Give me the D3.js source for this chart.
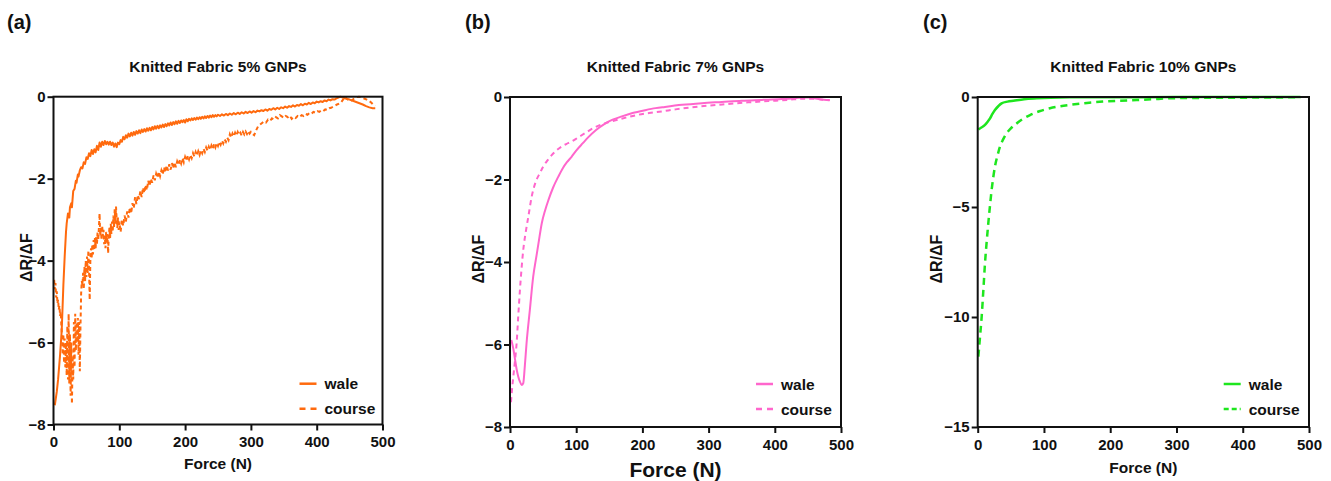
<!DOCTYPE html>
<html>
<head>
<meta charset="utf-8">
<script src="https://cdn.jsdelivr.net/npm/d3@7"></script>
<style>
  body { margin: 0; background: #fff; }
  text { font-family: "Liberation Sans", Arial, sans-serif; font-weight: bold; fill: #111; }
</style>
</head>
<body>
<svg id="chart" width="1331" height="481"></svg>
<script>
// ---- data ----
var forceTicks = [0, 100, 200, 300, 400, 500];
var yTicks8 = [-8, -6, -4, -2, 0];
var yTicks15 = [-15, -10, -5, 0];
var seriesNames = ["wale", "course"];
var panelLabels = ["(a)", "(b)", "(c)"];
var panelTitles = ["Knitted Fabric 5% GNPs", "Knitted Fabric 7% GNPs", "Knitted Fabric 10% GNPs"];

// [force N, dR/dF]
var wale5 = [[2,-7.53],[5,-7.2],[7,-6.9],[10,-6.3],[12.5,-5.7],[15,-4.6],[17,-3.9],[19,-3.3],[20,-3.1],[22,-2.85],
  [24,-2.95],[25,-2.7],[27,-2.6],[28,-2.7],[30,-2.3],[32,-2.25],[34,-2.05],[35,-2.1],[37,-1.9],[38,-1.95],
  [40,-1.8],[42,-1.72],[44,-1.75],[46,-1.6],[48,-1.64],[50,-1.48],[52,-1.52],[54,-1.38],[56,-1.45],[58,-1.3],
  [60,-1.4],[62,-1.28],[64,-1.36],[66,-1.2],[68,-1.3],[70,-1.12],[72,-1.22],[74,-1.1],[76,-1.18],[78,-1.08],
  [80,-1.16],[82,-1.1],[84,-1.17],[86,-1.1],[88,-1.18],[90,-1.12],[92,-1.22],[94,-1.14],[96,-1.23],[98,-1.12],
  [100,-1.16],[102,-1.06],[104,-1.1],[106,-0.98],[108,-1.04],[110,-0.94],[112,-1.0],[114,-0.9],[116,-0.97],[118,-0.88],
  [120,-0.95],[122,-0.86],[124,-0.93],[126,-0.84],[128,-0.9],[130,-0.82],[132,-0.89],[134,-0.8],[136,-0.86],[138,-0.79],
  [140,-0.85],[142,-0.77],[144,-0.83],[146,-0.76],[148,-0.82],[150,-0.74],[152,-0.8],[154,-0.72],[156,-0.78],[158,-0.71],
  [160,-0.77],[162,-0.7],[164,-0.75],[166,-0.68],[168,-0.74],[170,-0.67],[172,-0.72],[174,-0.65],[176,-0.7],[178,-0.63],
  [180,-0.69],[182,-0.62],[184,-0.67],[186,-0.6],[188,-0.66],[190,-0.59],[192,-0.64],[194,-0.58],[196,-0.62],[198,-0.57],
  [200,-0.63],[202,-0.55],[204,-0.6],[206,-0.54],[208,-0.58],[210,-0.53],[212,-0.57],[214,-0.52],[216,-0.56],[218,-0.51],
  [220,-0.55],[222,-0.5],[224,-0.54],[226,-0.49],[228,-0.53],[230,-0.48],[232,-0.52],[234,-0.47],[236,-0.51],[238,-0.46],
  [240,-0.5],[242,-0.45],[244,-0.49],[246,-0.45],[248,-0.48],[250,-0.44],[253,-0.47],[256,-0.43],[259,-0.46],[262,-0.42],
  [265,-0.45],[268,-0.41],[271,-0.44],[274,-0.4],[277,-0.43],[280,-0.39],[283,-0.42],[286,-0.38],[289,-0.41],[292,-0.37],
  [295,-0.4],[298,-0.36],[301,-0.39],[304,-0.35],[307,-0.38],[310,-0.34],[313,-0.36],[316,-0.33],[319,-0.35],[322,-0.31],
  [325,-0.34],[328,-0.3],[331,-0.32],[334,-0.28],[337,-0.31],[340,-0.27],[343,-0.3],[346,-0.26],[349,-0.28],[352,-0.24],
  [355,-0.27],[358,-0.23],[361,-0.25],[364,-0.21],[367,-0.24],[370,-0.2],[373,-0.22],[376,-0.18],[379,-0.21],[382,-0.17],
  [385,-0.19],[388,-0.15],[391,-0.18],[394,-0.14],[397,-0.16],[400,-0.12],[403,-0.14],[406,-0.11],[409,-0.13],[412,-0.09],
  [415,-0.11],[418,-0.07],[421,-0.09],[424,-0.06],[427,-0.07],[430,-0.04],[433,-0.02],[436,0],[440,-0.02],[445,-0.05],
  [450,-0.07],[455,-0.1],[460,-0.13],[465,-0.16],[470,-0.19],[475,-0.23],[480,-0.26],[485,-0.28],[489,-0.28]];

var course5 = [[1,-4.47],[2,-4.7],[3,-4.55],[4,-4.9],[5,-4.75],[6,-5.05],[7,-4.95],[8,-5.2],[9,-5.1],[10,-5.35],
  [11,-5.25],[12,-5.6],[13,-5.9],[14,-6.3],[15,-5.8],[16,-6.5],[17,-5.9],[18,-6.6],[19,-6.0],[20,-6.8],
  [21,-5.6],[22,-6.9],[23,-5.3],[24,-7.0],[25,-5.8],[26,-7.3],[27,-6.0],[28,-7.5],[29,-6.4],[30,-6.9],
  [31,-5.5],[32,-6.6],[33,-5.3],[34,-6.2],[35,-5.5],[36,-6.0],[37,-5.4],[38,-6.3],[39,-5.5],[40,-6.7],
  [41,-5.6],[42,-4.8],[43,-4.5],[44,-4.6],[45,-4.3],[46,-4.7],[47,-4.15],[48,-4.5],[49,-4.0],[50,-4.4],
  [51,-3.9],[52,-4.3],[53,-3.75],[54,-4.2],[55,-4.96],[56,-4.0],[57,-3.7],[58,-3.95],[59,-3.6],[60,-3.85],
  [61,-3.5],[62,-3.75],[63,-3.45],[64,-3.7],[65,-3.4],[66,-3.6],[67,-3.3],[68,-3.5],[69,-3.2],[70,-2.85],
  [71,-3.4],[72,-3.2],[73,-3.5],[74,-3.15],[75,-3.4],[76,-3.25],[77,-3.6],[78,-3.4],[79,-3.7],[80,-3.3],
  [81,-3.55],[82,-3.35],[83,-3.82],[84,-3.4],[85,-3.2],[86,-3.45],[87,-3.1],[88,-3.35],[89,-3.05],[90,-3.3],
  [91,-2.9],[92,-3.2],[93,-2.75],[94,-3.1],[95,-2.68],[96,-3.0],[97,-3.2],[98,-2.95],[99,-3.25],[100,-3.05],
  [102,-3.3],[104,-3.0],[106,-3.15],[108,-2.9],[110,-3.05],[112,-2.8],[114,-2.95],[116,-2.7],[118,-2.85],[120,-2.6],
  [122,-2.72],[124,-2.45],[126,-2.62],[128,-2.4],[130,-2.5],[132,-2.3],[134,-2.45],[136,-2.22],[138,-2.35],[140,-2.15],
  [142,-2.28],[144,-2.05],[146,-2.18],[148,-2.0],[150,-2.1],[152,-1.92],[154,-2.04],[156,-1.88],[158,-1.98],[160,-1.83],
  [162,-1.94],[164,-1.8],[166,-1.9],[168,-1.72],[170,-1.85],[172,-1.68],[174,-1.8],[176,-1.65],[178,-1.78],[180,-1.62],
  [182,-1.75],[184,-1.6],[186,-1.72],[188,-1.58],[190,-1.66],[192,-1.54],[194,-1.63],[196,-1.5],[198,-1.6],[200,-1.47],
  [202,-1.56],[204,-1.44],[206,-1.53],[208,-1.42],[210,-1.5],[212,-1.38],[214,-1.46],[216,-1.35],[218,-1.44],[220,-1.33],
  [222,-1.42],[224,-1.3],[226,-1.38],[228,-1.27],[230,-1.35],[232,-1.24],[234,-1.32],[236,-1.22],[238,-1.3],[240,-1.19],
  [242,-1.27],[244,-1.16],[246,-1.24],[248,-1.13],[250,-1.2],[252,-1.1],[254,-1.17],[256,-1.07],[258,-1.14],[260,-1.04],
  [262,-1.1],[264,-1.0],[266,-1.06],[268,-0.92],[270,-1.0],[272,-0.9],[274,-0.97],[276,-0.88],[278,-0.95],[280,-0.86],
  [282,-0.93],[284,-0.88],[286,-0.95],[288,-0.86],[290,-0.92],[292,-0.85],[294,-0.91],[296,-0.84],[298,-0.9],[300,-0.86],
  [302,-0.9],[305,-0.94],[308,-0.82],[311,-0.72],[314,-0.68],[317,-0.64],[320,-0.6],[323,-0.63],[326,-0.56],[329,-0.59],
  [332,-0.53],[335,-0.56],[338,-0.5],[341,-0.53],[344,-0.45],[347,-0.48],[350,-0.52],[353,-0.47],[356,-0.5],[359,-0.46],
  [362,-0.54],[365,-0.49],[368,-0.52],[371,-0.47],[374,-0.5],[377,-0.45],[380,-0.47],[383,-0.42],[386,-0.44],[389,-0.4],
  [392,-0.42],[395,-0.37],[398,-0.39],[401,-0.35],[404,-0.37],[407,-0.33],[410,-0.35],[413,-0.31],[416,-0.32],[419,-0.28],
  [422,-0.27],[425,-0.24],[428,-0.22],[431,-0.19],[434,-0.17],[437,-0.14],[440,-0.07],[443,0],[446,-0.05],[449,-0.09],
  [452,-0.11],[455,-0.07],[458,-0.03],[461,-0.01],[464,0],[467,-0.01],[470,-0.03],[473,-0.05],[476,-0.07],[479,-0.1],
  [482,-0.13],[485,-0.18],[489,-0.22]];

var wale7 = [[2,-5.89],[5,-6.1],[7.5,-6.35],[10,-6.6],[12.5,-6.78],[15,-6.9],[17.6,-6.98],[20,-6.94],[22.5,-6.5],[25,-5.97],
  [30,-5.16],[35,-4.36],[40,-3.85],[43,-3.55],[48,-3.06],[53,-2.75],[58,-2.5],[65,-2.2],[73,-1.93],[80,-1.72],
  [86,-1.58],[93,-1.45],[100,-1.3],[110,-1.12],[118,-0.98],[130,-0.8],[143,-0.65],[155,-0.55],[169,-0.47],[185,-0.39],
  [204,-0.32],[220,-0.27],[234,-0.24],[260,-0.19],[290,-0.15],[320,-0.12],[350,-0.09],[380,-0.07],[410,-0.05],[430,-0.03],
  [445,-0.01],[452,-0.01],[460,-0.03],[470,-0.06],[478,-0.07],[483,-0.07]];

var course7 = [[1.5,-7.4],[3,-7.1],[5,-6.78],[7.5,-6.4],[10,-5.97],[12.5,-5.3],[15,-4.68],[17.5,-4.15],[20,-3.71],[24,-3.25],
  [27.7,-2.9],[32.7,-2.42],[36,-2.2],[40,-2.01],[45,-1.85],[50,-1.69],[56,-1.55],[63,-1.41],[70,-1.3],[78,-1.2],
  [85,-1.14],[93,-1.08],[103,-0.98],[113,-0.88],[123,-0.78],[133,-0.7],[145,-0.63],[158,-0.57],[175,-0.5],[194,-0.43],
  [210,-0.39],[229,-0.35],[250,-0.3],[275,-0.25],[300,-0.21],[330,-0.17],[360,-0.13],[390,-0.1],[420,-0.07],[445,-0.04],
  [460,-0.04],[470,-0.06],[483,-0.08]];

var wale10 = [[1,-1.47],[5,-1.4],[11,-1.27],[15,-1.12],[18.6,-0.97],[22,-0.78],[26,-0.59],[31,-0.42],[36,-0.29],[45,-0.21],
  [54,-0.17],[70,-0.1],[89,-0.06],[110,-0.03],[139,-0.015],[200,-0.01],[300,-0.005],[400,0],[487,0]];

var course10 = [[1,-11.8],[3.5,-10.9],[6,-9.98],[8.5,-8.8],[11,-7.56],[13.5,-6.6],[16,-5.74],[18.5,-4.95],[21,-4.23],[23.5,-3.65],
  [26,-3.17],[30,-2.65],[33.6,-2.26],[38,-1.95],[43.7,-1.65],[50,-1.43],[58.8,-1.2],[68,-1.0],[79,-0.82],[93,-0.65],
  [109,-0.51],[125,-0.42],[139,-0.36],[165,-0.27],[189,-0.21],[215,-0.17],[240,-0.14],[265,-0.1],[290,-0.06],[340,-0.04],
  [400,-0.03],[451,-0.02],[487,-0.01]];

// ---- layout ----
var svg = d3.select("#chart");

var panels = [
  {x0: 53.5, x1: 382.5, y0: 96.7, y1: 424.5, ymin: -8, yTicks: yTicks8, wale: wale5, course: course5,
   color: "#ff6a0e", curve: d3.curveLinear, width: 2, dash: "4,3", legDash: "6,5",
   yTitleDx: 22, xTitleSize: 15.5, xTitleY: 469, labelX: 7},
  {x0: 510, x1: 841, y0: 97, y1: 427, ymin: -8, yTicks: yTicks8, wale: wale7, course: course7,
   color: "#ff66cc", curve: d3.curveMonotoneX, width: 2, dash: "5,4", legDash: "6,5",
   yTitleDx: 26, xTitleSize: 21, xTitleY: 477, labelX: 465},
  {x0: 977.7, x1: 1309, y0: 97, y1: 427, ymin: -15, yTicks: yTicks15, wale: wale10, course: course10,
   color: "#1ee61e", curve: d3.curveMonotoneX, width: 2.5, dash: "7,5", legDash: "5,3",
   yTitleDx: 36, xTitleSize: 15.5, xTitleY: 472.5, labelX: 923}
];

panels.forEach(function(p, i) {
  var x = d3.scaleLinear().domain([0, 500]).range([p.x0, p.x1]);
  var y = d3.scaleLinear().domain([p.ymin, 0]).range([p.y1, p.y0]);
  var midX = (p.x0 + p.x1) / 2;

  // panel letter and title
  svg.append("text")
      .attr("x", p.labelX).attr("y", 29)
      .style("font-size", "20px")
      .text(panelLabels[i]);

  svg.append("text")
      .attr("x", midX).attr("y", 71.5)
      .attr("text-anchor", "middle")
      .style("font-size", "15.5px")
      .text(panelTitles[i]);

  // axes
  var xAxis = svg.append("g")
      .attr("transform", "translate(0," + p.y1 + ")")
      .call(d3.axisBottom(x).tickValues(forceTicks).tickSizeInner(6).tickSizeOuter(0).tickPadding(6));
  var yAxis = svg.append("g")
      .attr("transform", "translate(" + p.x0 + ",0)")
      .call(d3.axisLeft(y).tickValues(p.yTicks).tickSizeInner(6).tickSizeOuter(0).tickPadding(2));

  [xAxis, yAxis].forEach(function(g) {
    g.select(".domain").remove();
    g.selectAll(".tick line").attr("stroke", "#111").attr("stroke-width", 2);
    g.selectAll(".tick text")
        .attr("fill", "#111")
        .style("font-family", "'Liberation Sans', Arial, sans-serif")
        .style("font-weight", "bold")
        .style("font-size", "15px");
  });

  // axis titles
  svg.append("text")
      .attr("x", midX).attr("y", p.xTitleY)
      .attr("text-anchor", "middle")
      .style("font-size", p.xTitleSize + "px")
      .text("Force (N)");

  svg.append("text")
      .attr("transform", "translate(" + (p.x0 - p.yTitleDx) + "," + ((p.y0 + p.y1) / 2 - 3) + ") rotate(-90)")
      .attr("text-anchor", "middle")
      .style("font-size", "16px")
      .text("\u0394R/\u0394F");

  // curves
  var line = d3.line()
      .x(function(d) { return x(d[0]); })
      .y(function(d) { return y(d[1]); })
      .curve(p.curve);

  svg.append("path")
      .datum(p.course)
      .attr("d", line)
      .attr("fill", "none")
      .attr("stroke", p.color)
      .attr("stroke-width", p.width)
      .attr("stroke-dasharray", p.dash);

  svg.append("path")
      .datum(p.wale)
      .attr("d", line)
      .attr("fill", "none")
      .attr("stroke", p.color)
      .attr("stroke-width", p.width)
      .attr("stroke-linejoin", "round");

  // frame
  svg.append("rect")
      .attr("x", p.x0).attr("y", p.y0)
      .attr("width", p.x1 - p.x0).attr("height", p.y1 - p.y0)
      .attr("fill", "none")
      .attr("stroke", "#111")
      .attr("stroke-width", 2);

  // legend
  var legend = svg.selectAll(null)
      .data(seriesNames)
      .enter()
      .append("g")
      .attr("transform", function(d, k) {
        return "translate(" + (p.x0 + 246) + "," + (p.y0 + 287 + k * 25) + ")";
      });

  legend.append("line")
      .attr("x1", 0).attr("x2", 17)
      .attr("stroke", p.color)
      .attr("stroke-width", 2.5)
      .attr("stroke-dasharray", function(d, k) { return k == 1 ? p.legDash : null; });

  legend.append("text")
      .attr("x", 25).attr("y", 5.5)
      .style("font-size", "15.5px")
      .text(function(d) { return d; });
});
</script>
</body>
</html>
